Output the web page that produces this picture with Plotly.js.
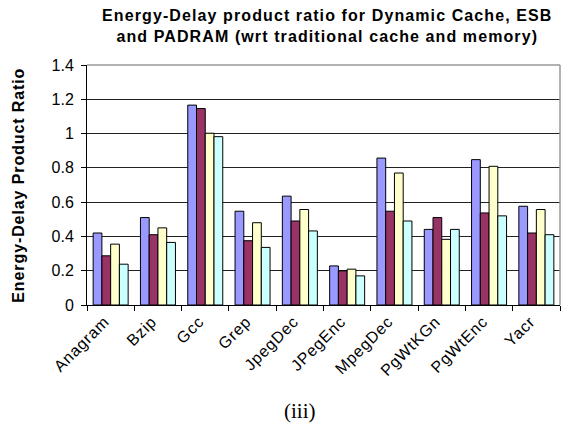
<!DOCTYPE html>
<html>
<head>
<meta charset="utf-8">
<script src="https://cdn.plot.ly/plotly-3.0.1.min.js"></script>
<style>
html,body{margin:0;padding:0;background:#fff;}
#chart{width:563px;height:429px;}
g.annotation[data-index="0"] text{letter-spacing:1.1px;}
g.annotation[data-index="1"] text{letter-spacing:0.9px;}
g.xtick text{letter-spacing:0.8px;}
</style>
</head>
<body>
<div id="chart"></div>
<script>
var categories = ["Anagram","Bzip","Gcc","Grep","JpegDec","JPegEnc","MpegDec","PgWtKGn","PgWtEnc","Yacr"];
var seriesA = [0.42, 0.51, 1.166, 0.547, 0.635, 0.228, 0.857, 0.441, 0.848, 0.576];
var seriesB = [0.287, 0.41, 1.146, 0.375, 0.49, 0.199, 0.547, 0.51, 0.537, 0.42];
var seriesC = [0.355, 0.45, 1.002, 0.48, 0.557, 0.209, 0.77, 0.383, 0.809, 0.557];
var seriesD = [0.238, 0.365, 0.982, 0.336, 0.432, 0.17, 0.49, 0.441, 0.52, 0.41];
var colors = ["#9999FF", "#993366", "#FFFFCC", "#CCFFFF"];

function bar(vals, c){
  return {type:'bar', x:categories, y:vals, marker:{color:c, line:{color:'#000', width:1}}, hoverinfo:'y'};
}
var data = [bar(seriesA,colors[0]), bar(seriesB,colors[1]), bar(seriesC,colors[2]), bar(seriesD,colors[3])];

var F = 'Liberation Sans, Arial, sans-serif';
var layout = {
  width:563, height:429,
  margin:{l:87, r:3, t:65, b:124},
  paper_bgcolor:'#fff', plot_bgcolor:'#fff',
  showlegend:false,
  barmode:'group', bargap:0.26, bargroupgap:0,
  font:{family:F, size:15, color:'#000'},
  xaxis:{
    type:'category', tickangle:-45, tickson:'boundaries',
    ticks:'outside', ticklen:5, tickcolor:'#000', tickwidth:1,
    ticklabelshift:-6,
    showline:true, linecolor:'#000', linewidth:1,
    showgrid:false, zeroline:false,
    tickfont:{size:16, family:F}
  },
  yaxis:{
    range:[0,1.4], dtick:0.2, tick0:0,
    ticks:'outside', ticklen:5, tickcolor:'#000', tickwidth:1,
    ticklabelstandoff:4,
    showline:true, linecolor:'#000', linewidth:1,
    showgrid:true, gridcolor:'#222', gridwidth:1,
    zeroline:false,
    tickfont:{size:16, family:F}
  },
  shapes:[
    {type:'line', xref:'paper', yref:'paper', x0:0, x1:1, y0:1, y1:1, line:{color:'#999', width:1.5}},
    {type:'line', xref:'paper', yref:'paper', x0:1, x1:1, y0:0, y1:1, line:{color:'#999', width:1.5}}
  ],
  annotations:[
    {text:'<b>Energy-Delay product ratio for Dynamic Cache, ESB<br>and PADRAM (wrt traditional cache and memory)</b>',
     xref:'paper', yref:'paper', x:(327-87)/473, y:1, yshift:60, xanchor:'center', yanchor:'top',
     showarrow:false, align:'center', font:{size:16, family:F}},
    {text:'<b>Energy-Delay Product Ratio</b>', textangle:-90,
     xref:'paper', yref:'paper', x:0, xshift:-69, y:0.5, xanchor:'center', yanchor:'middle',
     showarrow:false, font:{size:16, family:F}},
    {text:'(iii)', xref:'paper', yref:'paper', x:(300-87)/473, y:0, yshift:-106, xanchor:'center', yanchor:'middle',
     showarrow:false, font:{size:21, family:'Liberation Serif, Times New Roman, serif'}}
  ]
};
Plotly.newPlot('chart', data, layout, {displayModeBar:false, staticPlot:true});
</script>
</body>
</html>
